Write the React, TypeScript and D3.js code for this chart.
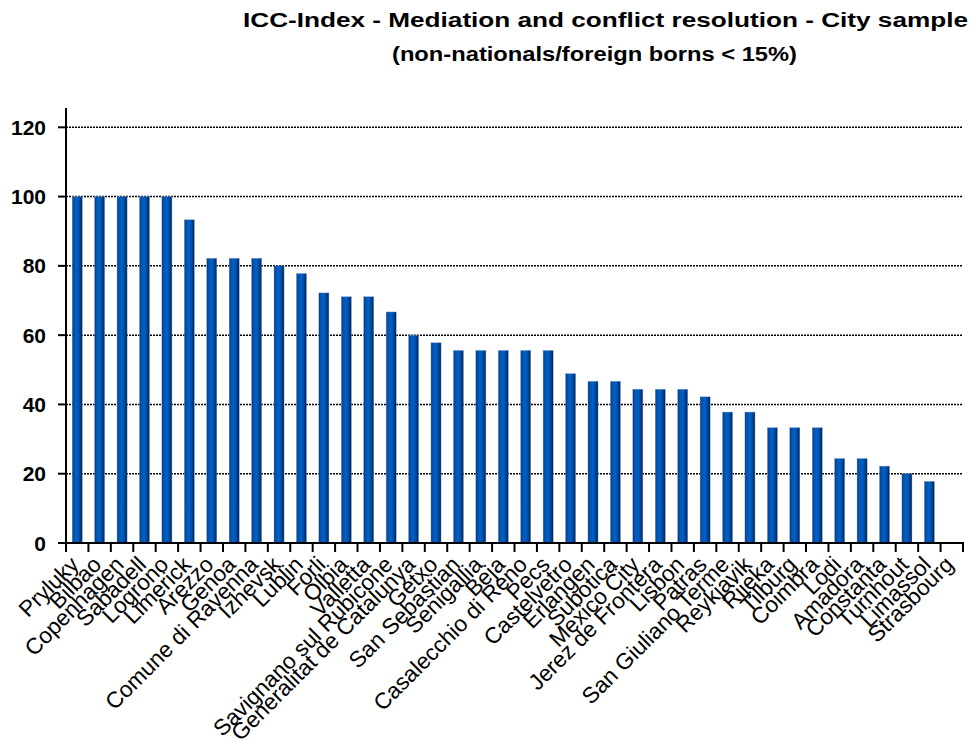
import React, { useEffect, useRef } from 'react';
import * as d3 from 'd3';

const cities = [
  'Pryluky', 'Bilbao', 'Copenhagen', 'Sabadell', 'Logrono', 'Limerick', 'Arezzo', 'Genoa',
  'Comune di Ravenna', 'Izhevsk', 'Lublin', 'Forli', 'Olbia', 'Valletta',
  'Savignano sul Rubicone', 'Generalitat de Catalunya', 'Getxo', 'San Sebastian', 'Senigallia',
  'Beja', 'Casalecchio di Reno', 'Pecs', 'Castelvetro', 'Erlangen', 'Subotica', 'Mexico City',
  'Jerez de Frontera', 'Lisbon', 'Patras', 'San Giuliano Terme', 'Reykjavik', 'Rijeka',
  'Tilburg', 'Coimbra', 'Lodi', 'Amadora', 'Constanta', 'Turnhout', 'Limassol', 'Strasbourg',
];

const scores = [
  100, 100, 100, 100, 100, 93.3, 82.2, 82.2,
  82.2, 80, 77.8, 72.2, 71.1, 71.1,
  66.7, 60, 57.8, 55.6, 55.6,
  55.6, 55.6, 55.6, 48.9, 46.7, 46.7, 44.4,
  44.4, 44.4, 42.2, 37.8, 37.8, 33.3,
  33.3, 33.3, 24.4, 24.4, 22.2, 20, 17.8, 0,
];

const yTicks = [0, 20, 40, 60, 80, 100, 120];

const titleLines = [
  'ICC-Index - Mediation and conflict resolution -  City sample',
  '(non-nationals/foreign borns < 15%)',
];

const W = 976;
const H = 745;

export default function App() {
  const svgRef = useRef<SVGSVGElement>(null);

  useEffect(() => {
    if (!svgRef.current) return;
    const svg = d3.select(svgRef.current);
    svg.selectAll('*').remove();

    const left = 66, right = 963, bottom = 543, top = 127.3;
    const font = '"Liberation Sans", Arial, sans-serif';

    const x = d3.scaleBand<string>().domain(cities).range([left, right]).paddingInner(0.55).paddingOuter(0.275);
    const xb = d3.scaleBand<string>().domain(cities).range([left, right]);
    const y = d3.scaleLinear().domain([0, 120]).range([bottom, top]);

    // bar gradient
    const defs = svg.append('defs');
    const gr = defs.append('linearGradient').attr('id', 'barGrad').attr('x1', 0).attr('x2', 1).attr('y1', 0).attr('y2', 0);
    [
      [0, '#12305e'], [0.15, '#0050ae'], [0.45, '#0062c6'], [0.75, '#0048a0'], [1, '#001f4c'],
    ].forEach(([o, c]) => gr.append('stop').attr('offset', o as number).attr('stop-color', c as string));

    // title
    const tw = [725, 405];
    const tx = [605.5, 594.5];
    const ty = [27, 61];
    titleLines.forEach((t, i) => {
      svg.append('text')
        .attr('x', tx[i]).attr('y', ty[i])
        .attr('text-anchor', 'middle')
        .attr('font-family', font).attr('font-weight', 'bold').attr('font-size', 20)
        .attr('textLength', tw[i]).attr('lengthAdjust', 'spacingAndGlyphs')
        .attr('fill', '#000')
        .text(t);
    });

    // gridlines
    svg.append('g').selectAll('line').data(yTicks.filter(d => d > 0)).enter().append('line')
      .attr('x1', left).attr('x2', right)
      .attr('y1', d => y(d)).attr('y2', d => y(d))
      .attr('stroke', '#000').attr('stroke-width', 1.5).attr('stroke-dasharray', '2,1');

    // bars
    svg.append('g').selectAll('rect').data(cities).enter().append('rect')
      .attr('x', d => x(d)!)
      .attr('width', x.bandwidth())
      .attr('y', (d, i) => y(scores[i]))
      .attr('height', (d, i) => bottom - y(scores[i]))
      .attr('fill', 'url(#barGrad)')
      .attr('stroke', '#8aa6cc').attr('stroke-width', 0.4);

    // y axis
    svg.append('line').attr('x1', left).attr('x2', left).attr('y1', 108).attr('y2', bottom + 1)
      .attr('stroke', '#000').attr('stroke-width', 2);
    svg.append('g').selectAll('line').data(yTicks).enter().append('line')
      .attr('x1', 58).attr('x2', left).attr('y1', d => y(d)).attr('y2', d => y(d))
      .attr('stroke', '#000').attr('stroke-width', 2);
    svg.append('g').selectAll('text').data(yTicks).enter().append('text')
      .attr('x', 46).attr('y', d => y(d)).attr('dy', '0.36em')
      .attr('text-anchor', 'end')
      .attr('font-family', font).attr('font-weight', 'bold').attr('font-size', 21)
      .text(d => d);

    // x axis
    svg.append('line').attr('x1', left - 1).attr('x2', right + 1).attr('y1', bottom).attr('y2', bottom)
      .attr('stroke', '#000').attr('stroke-width', 2);
    const bounds = cities.map(c => xb(c)!).concat([right]);
    svg.append('g').selectAll('line').data(bounds).enter().append('line')
      .attr('x1', d => d).attr('x2', d => d).attr('y1', bottom).attr('y2', bottom + 9)
      .attr('stroke', '#000').attr('stroke-width', 2);

    svg.append('g').selectAll('text').data(cities).enter().append('text')
      .attr('transform', d => `translate(${xb(d)! + xb.bandwidth() / 2 + 3},566) rotate(-45)`)
      .attr('text-anchor', 'end')
      .attr('font-family', font).attr('font-size', 22.5)
      .attr('fill', '#000')
      .text(d => d);
  }, []);

  return (
    <div style={{ position: 'absolute', left: 0, top: 0, width: W, height: H, background: '#fff' }}>
      <svg ref={svgRef} width={W} height={H} style={{ display: 'block' }} />
    </div>
  );
}
